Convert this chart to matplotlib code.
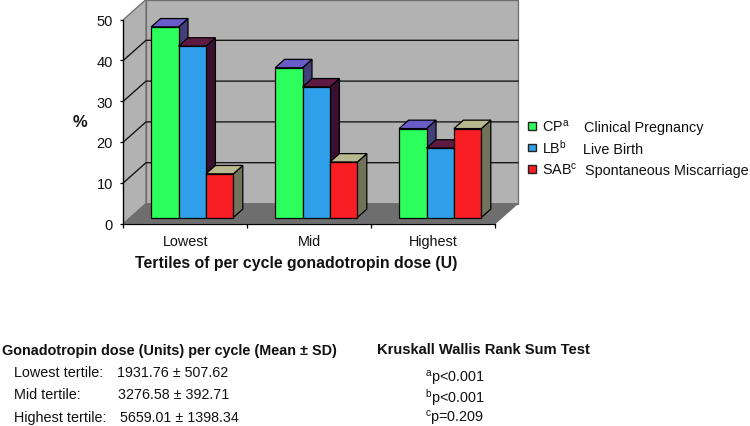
import matplotlib
matplotlib.use("Agg")
import matplotlib.pyplot as plt
from matplotlib.patches import Polygon, Rectangle

plt.rcParams['font.family'] = ['Liberation Sans', 'DejaVu Sans']
plt.rcParams['mathtext.fontset'] = 'custom'
plt.rcParams['mathtext.rm'] = 'Liberation Sans'
plt.rcParams['mathtext.default'] = 'regular'

categories = ["Lowest", "Mid", "Highest"]
cp = [46.7, 36.7, 21.8]
lb = [42.0, 32.0, 17.0]
sab = [10.7, 13.6, 21.8]
y_ticks = [0, 10, 20, 30, 40, 50]
legend_keys = ["$CP^{a}$", "$LB^{b}$", "$SAB^{c}$"]
legend_names = ["Clinical Pregnancy", "Live Birth", "Spontaneous Miscarriage"]

W, H = 750, 427
fig = plt.figure(figsize=(W/100, H/100), dpi=100)
L, R, B, T = 123.5, 495.5, 224.5, 20.5
ax = fig.add_axes([L/W, 1-B/H, (R-L)/W, (B-T)/H])
ax.set_xlim(0, 3)
ax.set_ylim(0, 50)
ax.patch.set_alpha(0)

DX = 22.5/124   # depth in category units
DY = 20/4.08    # depth in value units

def P(x, y, z):
    return (x + z*DX, y + z*DY)

def poly(pts, fc, ec='black', lw=0.9, z=2):
    ax.add_patch(Polygon(pts, closed=True, facecolor=fc, edgecolor=ec, linewidth=lw, zorder=z, clip_on=False, joinstyle='miter'))

WALL = '#b2b2b2'
EDGE = '#6c6c6c'
top = y_ticks[-1]
poly([P(0,0,1), P(3,0,1), P(3,top,1), P(0,top,1)], WALL, EDGE, 0.9, 1)
poly([P(0,0,0), P(0,0,1), P(0,top,1), P(0,top,0)], WALL, EDGE, 0.9, 1)
poly([P(0,0,0), P(3,0,0), P(3,0,1), P(0,0,1)], '#6e6e6e', '#6e6e6e', 0.6, 1.2)

for v in y_ticks[1:-1]:
    a, b, c = P(0,v,0), P(0,v,1), P(3,v,1)
    ax.plot([a[0], b[0], c[0]], [a[1], b[1], c[1]], color='#111111', lw=0.95, zorder=1.5, clip_on=False, solid_joinstyle='miter')

series = [
    (cp, '#2cff5c', '#6a5cc8', '#433f7a'),
    (lb, '#2f9fea', '#5e1a42', '#3a1030'),
    (sab, '#f81e24', '#b9b98f', '#71735a'),
]
bw = 27.4/124
z0, z1 = 0.30, 0.72
for s, (vals, front, topc, side) in enumerate(series):
    for i, v in enumerate(vals):
        x0 = i + 0.5 - 1.5*bw + s*bw
        x1 = x0 + bw
        poly([P(x1,0,z0), P(x1,0,z1), P(x1,v,z1), P(x1,v,z0)], side, 'black', 0.9, 3+s)
        poly([P(x0,v,z0), P(x1,v,z0), P(x1,v,z1), P(x0,v,z1)], topc, 'black', 0.9, 3+s)
        poly([P(x0,0,z0), P(x1,0,z0), P(x1,v,z0), P(x0,v,z0)], front, 'black', 0.9, 3+s)

for sp in ('top', 'right'):
    ax.spines[sp].set_visible(False)
for sp in ('left', 'bottom'):
    ax.spines[sp].set_linewidth(0.9)
    ax.spines[sp].set_zorder(2)
ax.set_yticks(y_ticks)
ax.tick_params(axis='y', length=2.5, width=0.9, labelsize=10.5, pad=5, labelcolor='#111111')
ax.set_xticks(range(len(categories)+1))
ax.set_xticklabels([])
ax.set_xticks([i+0.5 for i in range(len(categories))], categories, minor=True)
ax.tick_params(axis='x', which='major', length=3, width=0.9)
ax.tick_params(axis='x', which='minor', length=0, labelsize=10.4, pad=7.5, labelcolor='#111111')

def t(x, y, s, **k):
    fig.text(x/W, 1-y/H, s, va='baseline', color='#111111', **k)

legend_y = [127, 148.5, 170]
legend_base = [131.7, 153.7, 175]
legend_name_x = [584, 583, 585]
for ly, by, key, name, nx, ser in zip(legend_y, legend_base, legend_keys, legend_names, legend_name_x, series):
    fig.add_artist(Rectangle((528/W, 1-(ly+3.7)/H), 7.5/W, 7.5/H, transform=fig.transFigure,
                             facecolor=ser[1], edgecolor='#222222', linewidth=1.0))
    t(542.5, by, key, fontsize=10.4)
    t(nx, by, name, fontsize=10.4)

t(80, 127, "%", fontsize=12, fontweight='bold', ha='center')
t(296, 268, "Tertiles of per cycle gonadotropin dose (U)", fontsize=11.4, fontweight='bold', ha='center')
t(2, 354.5, "Gonadotropin dose (Units) per cycle (Mean ± SD)", fontsize=10.4, fontweight='bold')
t(14, 377.5, "Lowest tertile:", fontsize=10.4)
t(117, 377.5, "1931.76 ± 507.62", fontsize=10.3)
t(14, 399.3, "Mid tertile:", fontsize=10.4)
t(118, 399.3, "3276.58 ± 392.71", fontsize=10.3)
t(14, 422, "Highest tertile:", fontsize=10.4)
t(120, 422, "5659.01 ± 1398.34", fontsize=10.3)
t(377, 354.5, "Kruskall Wallis Rank Sum Test", fontsize=10.6, fontweight='bold')
t(425, 382.5, "$^{a}$p<0.001", fontsize=10.4)
t(425, 402.5, "$^{b}$p<0.001", fontsize=10.4)
t(425, 422.5, "$^{c}$p=0.209", fontsize=10.4)

fig.savefig("out.png", dpi=100)
